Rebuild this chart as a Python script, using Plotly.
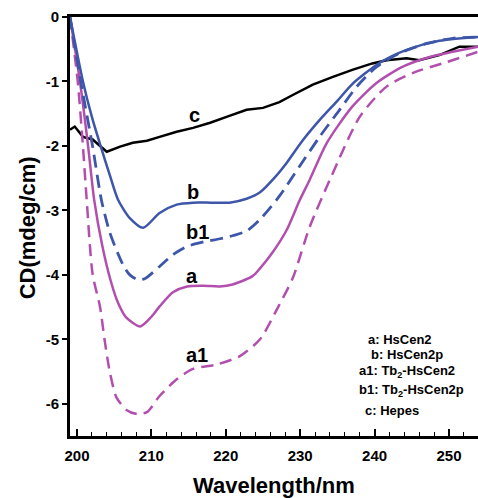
import plotly.graph_objects as go

# ---- data ----
wl_b = [199.06, 200.8, 202.0, 203.2, 204.4, 205.5, 207.1, 208.9, 211.1, 213.4, 215.6, 218.0, 220.5,
        222.8, 224.6, 226.5, 228.2, 230.3, 232.6, 235.0, 237.0, 240.7, 244.3, 248.7, 253.9]
cd_b = [0, -1.0, -1.55, -2.01, -2.45, -2.83, -3.12, -3.27, -3.04, -2.91, -2.88, -2.88, -2.88,
        -2.82, -2.72, -2.5, -2.26, -1.92, -1.6, -1.3, -1.04, -0.71, -0.51, -0.37, -0.31]

wl_b1 = [199.06, 200.5, 202.1, 203.3, 204.4, 205.5, 206.3, 207.1, 208.1, 209.1, 211.1, 213.0, 214.8,
         217.0, 219.2, 221.0, 222.8, 224.6, 227.2, 229.9, 232.6, 235.3, 237.6, 240.3, 243.4, 247.0,
         250.5, 253.9]
cd_b1 = [0, -1.0, -2.01, -2.85, -3.34, -3.67, -3.87, -4.0, -4.07, -4.06, -3.87, -3.68, -3.56,
         -3.49, -3.44, -3.39, -3.32, -3.14, -2.78, -2.32, -1.86, -1.44, -1.08, -0.77, -0.56, -0.41,
         -0.33, -0.31]

wl_a = [199.06, 200.4, 201.5, 202.3, 203.4, 204.5, 205.5, 206.6, 208.5, 210.0, 211.1, 212.9,
        214.8, 217.0, 219.2, 220.9, 223.6, 224.6, 226.3, 228.2, 229.9, 231.3, 233.6, 237.0, 240.3,
        243.8, 247.4, 250.5, 253.9]
cd_a = [0, -1.0, -2.01, -2.83, -3.55, -4.08, -4.43, -4.66, -4.80, -4.65, -4.49, -4.27,
        -4.18, -4.17, -4.18, -4.15, -4.02, -3.9, -3.65, -3.3, -2.85, -2.52, -1.95, -1.39, -1.02,
        -0.77, -0.62, -0.54, -0.46]

wl_a1 = [199.06, 200.1, 200.8, 201.3, 202.1, 203.1, 203.7, 204.4, 205.3, 206.7, 208.1, 209.4, 211.1,
         213.4, 215.6, 218.8, 221.9, 224.6, 226.8, 229.0, 231.3, 234.2, 238.0, 241.6, 245.1, 249.7,
         253.9]
cd_a1 = [0, -1.0, -2.01, -2.83, -3.99, -4.5, -5.0, -5.5, -5.9, -6.1, -6.16, -6.13, -5.88,
         -5.62, -5.46, -5.39, -5.26, -5.0, -4.55, -4.05, -3.25, -2.47, -1.55, -1.08, -0.87, -0.70,
         -0.54]

wl_c = [199.06, 199.7, 200.8, 202.1, 204.0, 205.8, 207.5, 209.4, 211.1, 213.4, 215.6, 217.9, 220.1,
        222.8, 225.0, 227.2, 229.0, 231.7, 234.4, 237.0, 239.7, 241.6, 244.3, 246.0, 248.7, 251.4,
        253.9]
cd_c = [-1.75, -1.70, -1.86, -1.90, -2.09, -2.01, -1.95, -1.92, -1.86, -1.78, -1.72, -1.64, -1.55,
        -1.44, -1.41, -1.32, -1.21, -1.05, -0.93, -0.82, -0.72, -0.67, -0.64, -0.67, -0.59, -0.46,
        -0.46]

x_ticks = [200, 210, 220, 230, 240, 250]
y_ticks = [0, -1, -2, -3, -4, -5, -6]
y_tick_text = ["0", "-1", "-2", "-3", "-4", "-5", "-6"]

legend_lines = ["a: HsCen2", "b: HsCen2p", "a1: Tb<sub>2</sub>-HsCen2",
                "b1: Tb<sub>2</sub>-HsCen2p", "c: Hepes"]

BLUE = "#3d56a9"
MAG = "#b24fae"
FONT = "Liberation Sans"

fig = go.Figure()
fig.add_trace(go.Scatter(x=wl_c, y=cd_c, mode="lines",
                         line=dict(color="black", width=2.5)))
fig.add_trace(go.Scatter(x=wl_a1, y=cd_a1, mode="lines",
                         line=dict(color=MAG, width=2.5, dash="12px,7px", shape="spline", smoothing=0.7)))
fig.add_trace(go.Scatter(x=wl_a, y=cd_a, mode="lines",
                         line=dict(color=MAG, width=2.5, shape="spline", smoothing=0.7)))
fig.add_trace(go.Scatter(x=wl_b1, y=cd_b1, mode="lines",
                         line=dict(color=BLUE, width=2.8, dash="13px,7px", shape="spline", smoothing=0.7)))
fig.add_trace(go.Scatter(x=wl_b, y=cd_b, mode="lines",
                         line=dict(color=BLUE, width=2.5, shape="spline", smoothing=0.7)))

# curve labels
for txt, x, y in [("c", 215.8, -1.52), ("b", 215.6, -2.72), ("b1", 216.2, -3.33),
                  ("a", 215.4, -4.02), ("a1", 216.1, -5.25)]:
    fig.add_annotation(x=x, y=y, text="<b>%s</b>" % txt, showarrow=False,
                       font=dict(family=FONT, size=20, color="black"))

# legend block
leg_x = [238.9, 239.3, 237.6, 237.6, 238.4]
leg_y = [-5.0, -5.23, -5.50, -5.80, -6.11]
for t, x, y in zip(legend_lines, leg_x, leg_y):
    fig.add_annotation(x=x, y=y, text="<b>%s</b>" % t, showarrow=False, xanchor="left",
                       font=dict(family=FONT, size=13, color="black"))

# axis titles
fig.add_annotation(xref="paper", yref="paper", x=0.5, y=-0.119, xanchor="center", yanchor="middle",
                   text="<b>Wavelength/nm</b>", showarrow=False,
                   font=dict(family=FONT, size=22, color="black"))
fig.add_annotation(xref="paper", yref="paper", x=-0.105, y=0.496, xanchor="center", yanchor="middle",
                   textangle=-90, text="<b>CD(mdeg/cm)</b>", showarrow=False,
                   font=dict(family=FONT, size=22, color="black"))

fig.update_layout(
    width=478, height=498,
    margin=dict(l=70, r=0, t=17, b=62),
    paper_bgcolor="white", plot_bgcolor="white",
    showlegend=False,
    font=dict(family=FONT, color="black"),
    xaxis=dict(range=[199.06, 253.9], tickvals=x_ticks, ticks="inside", ticklen=7,
               tickwidth=1.5, tickcolor="black", showline=True, linewidth=3, linecolor="black",
               mirror=True, showgrid=False, zeroline=False, automargin=False,
               tickfont=dict(family=FONT, size=15, color="black", weight="bold"),
               ticklabelstandoff=4,
               minor=dict(tick0=200, dtick=2, ticks="inside", ticklen=4, tickwidth=1, tickcolor="black")),
    yaxis=dict(range=[-6.5, 0], tickvals=y_ticks, ticktext=y_tick_text, ticks="outside", ticklen=5,
               tickwidth=1.5, tickcolor="black", showline=True, linewidth=3, linecolor="black",
               showgrid=False, zeroline=False, automargin=False,
               tickfont=dict(family=FONT, size=15, color="black", weight="bold")),
)

fig.write_html("out.html", config={"displayModeBar": False},
               post_script="document.body.style.margin='0';document.body.style.overflow='hidden';")
